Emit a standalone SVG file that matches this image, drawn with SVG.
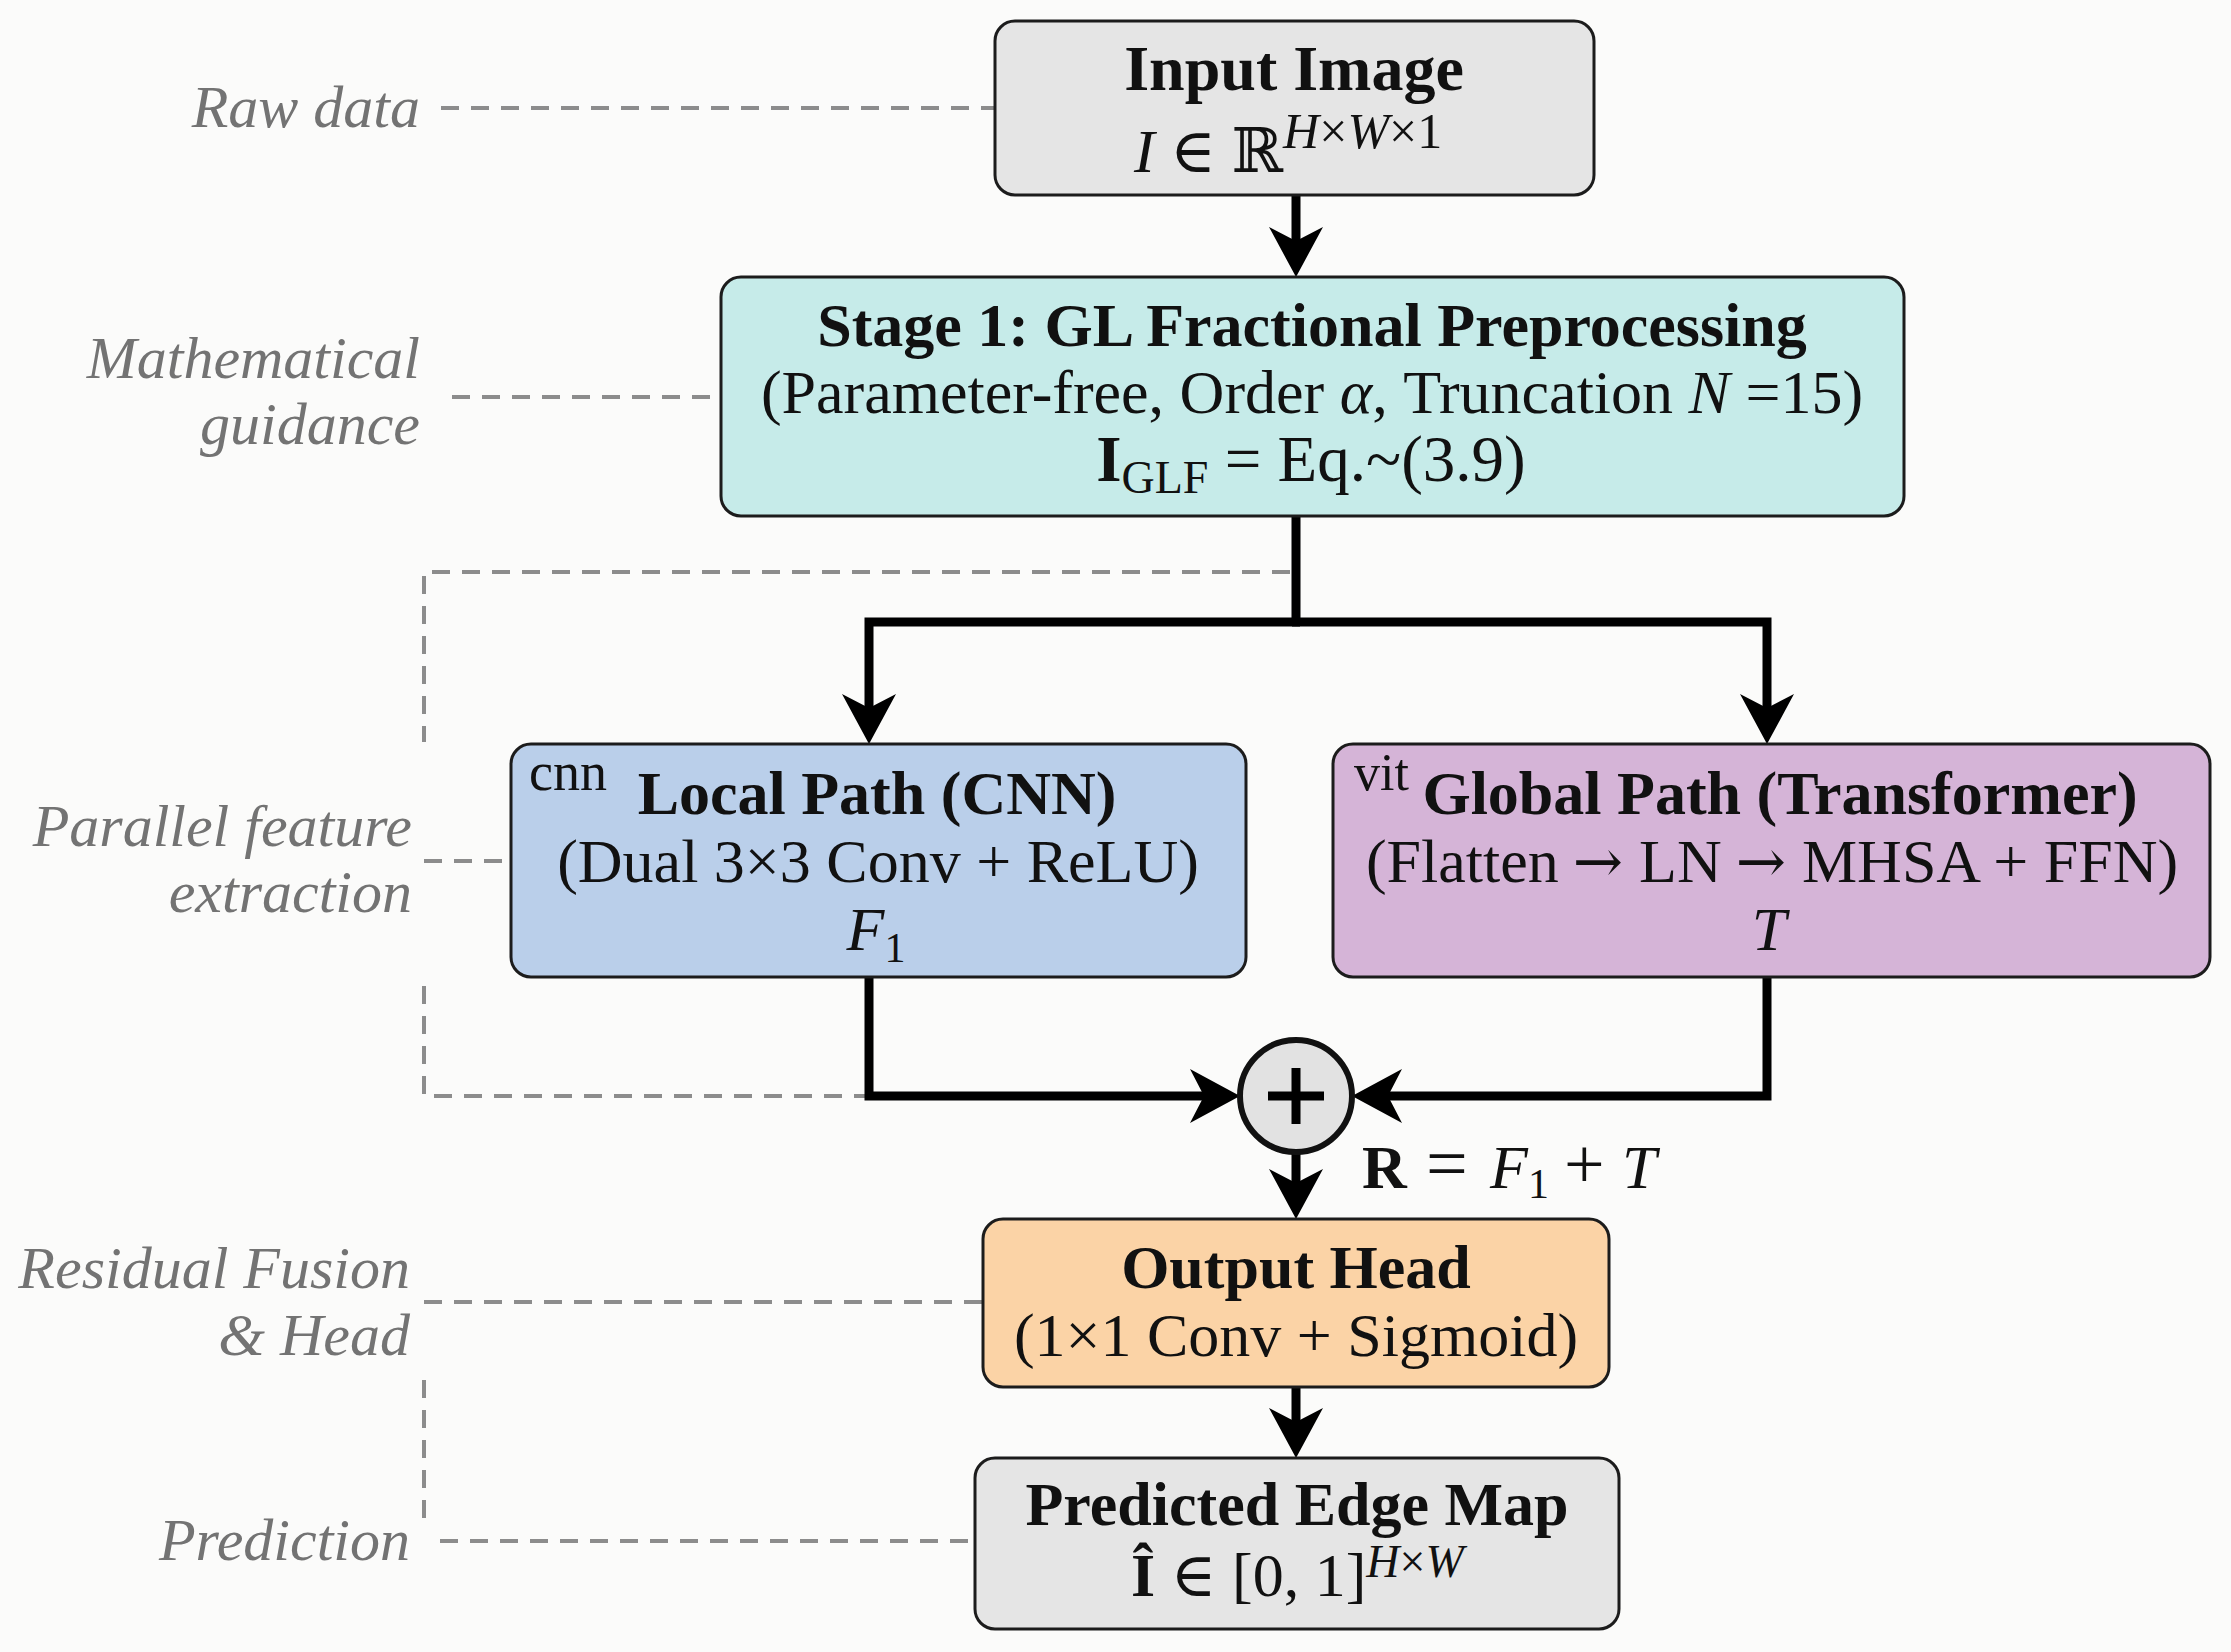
<svg xmlns="http://www.w3.org/2000/svg" width="2231" height="1652" viewBox="0 0 2231 1652">
<style>
  text { font-family: "Liberation Serif", "DejaVu Serif", serif; fill: #111; }
  .t { font-weight: bold; font-size: 62px; text-anchor: middle; }
  .m { font-size: 62px; }
  .c { text-anchor: middle; }
  .i { font-style: italic; }
  .b { font-weight: bold; }
  .ar { font-family: "DejaVu Serif", serif; font-size: 60px; }
  .lab { font-style: italic; font-size: 60px; fill: #737373; text-anchor: end; }
  .box { stroke: #1c1c1c; stroke-width: 3; }
  .dash { fill: none; stroke: #8c8c8c; stroke-width: 4; stroke-dasharray: 18 12; }
  .arr { fill: none; stroke: #000; stroke-width: 9; stroke-linejoin: miter; }
</style>
<defs>
  <marker id="ah" markerUnits="userSpaceOnUse" viewBox="0 -28 52 56" refX="16" refY="0" markerWidth="52" markerHeight="56" orient="auto">
    <path d="M0,-27 L50,0 L0,27 L14,0 Z" fill="#000"/>
  </marker>
</defs>
<rect width="2231" height="1652" fill="#fbfbfa"/>

<g id="guides">
  <path class="dash" d="M441,108 H995"/>
  <path class="dash" d="M452,397 H721"/>
  <path class="dash" d="M424,861 H511"/>
  <path class="dash" d="M1290,572 H424 V742"/>
  <path class="dash" d="M424,986 V1096 H869"/>
  <path class="dash" d="M424,1302 H983"/>
  <path class="dash" d="M424,1380 V1530"/>
  <path class="dash" d="M440,1541 H975"/>
</g>

<g id="labels">
  <text class="lab" x="420" y="127">Raw data</text>
  <text class="lab" x="420" y="378">Mathematical</text>
  <text class="lab" x="420" y="444">guidance</text>
  <text class="lab" x="412" y="846">Parallel feature</text>
  <text class="lab" x="412" y="912">extraction</text>
  <text class="lab" x="410" y="1288">Residual Fusion</text>
  <text class="lab" x="410" y="1355">&amp; Head</text>
  <text class="lab" x="410" y="1560">Prediction</text>
</g>

<g id="connectors">
  <path class="arr" d="M1296,195 V243" marker-end="url(#ah)"/>
  <path class="arr" d="M1296,516 V622"/>
  <path class="arr" d="M1300,622 H869 V710" marker-end="url(#ah)"/>
  <path class="arr" d="M1292,622 H1767 V710" marker-end="url(#ah)"/>
  <path class="arr" d="M869,977 V1096 H1206" marker-end="url(#ah)"/>
  <path class="arr" d="M1767,977 V1096 H1386" marker-end="url(#ah)"/>
  <path class="arr" d="M1296,1152 V1185" marker-end="url(#ah)"/>
  <path class="arr" d="M1296,1387 V1424" marker-end="url(#ah)"/>
</g>

<g id="input">
  <rect class="box" x="995" y="21" width="599" height="174" rx="20" fill="#e5e5e5"/>
  <text class="t" x="1294" y="90" style="font-size:64px">Input Image</text>
  <text class="m" x="1134" y="172"><tspan class="i">I</tspan> ∈ ℝ<tspan dy="-24" font-size="50"><tspan class="i">H</tspan>×<tspan class="i">W</tspan>×1</tspan></text>
</g>

<g id="stage1">
  <rect class="box" x="721" y="277" width="1183" height="239" rx="20" fill="#c6ebe9"/>
  <text class="t" x="1312" y="346">Stage 1: GL Fractional Preprocessing</text>
  <text class="m c" x="1312" y="413">(Parameter-free, Order <tspan class="i">α</tspan>, Truncation <tspan class="i">N</tspan> =15)</text>
  <text class="c" x="1311" y="481" font-size="65"><tspan class="b">I</tspan><tspan font-size="46" dy="12">GLF</tspan><tspan dy="-12"> = Eq.~(3.9)</tspan></text>
</g>

<g id="local">
  <rect class="box" x="511" y="744" width="735" height="233" rx="20" fill="#bacfea"/>
  <text x="529" y="790" font-size="54">cnn</text>
  <text class="t" x="877" y="814">Local Path (CNN)</text>
  <text class="m c" x="878" y="882">(Dual 3×3 Conv + ReLU)</text>
  <text class="m c" x="876" y="950"><tspan class="i">F</tspan><tspan font-size="42" dy="12">1</tspan></text>
</g>

<g id="global">
  <rect class="box" x="1333" y="744" width="877" height="233" rx="20" fill="#d5b4d7"/>
  <text x="1354" y="790" font-size="52">vit</text>
  <text class="t" x="1780" y="814">Global Path (Transformer)</text>
  <text class="m c" x="1772" y="882">(Flatten<tspan class="ar" dx="14">→</tspan><tspan dx="16">LN</tspan><tspan class="ar" dx="14">→</tspan><tspan dx="16">MHSA + FFN)</tspan></text>
  <text class="m c i" x="1769" y="950">T</text>
</g>

<g id="sum">
  <circle cx="1296" cy="1096" r="56" fill="#e2e2e2" stroke="#111" stroke-width="6"/>
  <path d="M1296,1068 V1124 M1268,1096 H1324" stroke="#000" stroke-width="9" fill="none"/>
  <text y="1188" font-size="62"><tspan x="1362" class="b">R</tspan><tspan x="1426" font-size="74">=</tspan><tspan x="1490" class="i">F</tspan><tspan font-size="42" dy="10">1</tspan><tspan x="1564" dy="-10" font-size="72">+</tspan><tspan x="1622" class="i">T</tspan></text>
</g>

<g id="output">
  <rect class="box" x="983" y="1219" width="626" height="168" rx="20" fill="#fbd3a6"/>
  <text class="t" x="1296" y="1288">Output Head</text>
  <text class="m c" x="1296" y="1356">(1×1 Conv + Sigmoid)</text>
</g>

<g id="predicted">
  <rect class="box" x="975" y="1458" width="644" height="171" rx="20" fill="#e5e5e5"/>
  <text class="t" x="1297" y="1525">Predicted Edge Map</text>
  <text class="m" x="1131" y="1596"><tspan class="b">Î</tspan> ∈ [0, 1]<tspan dy="-19" font-size="46"><tspan class="i">H</tspan>×<tspan class="i">W</tspan></tspan></text>
</g>
</svg>
